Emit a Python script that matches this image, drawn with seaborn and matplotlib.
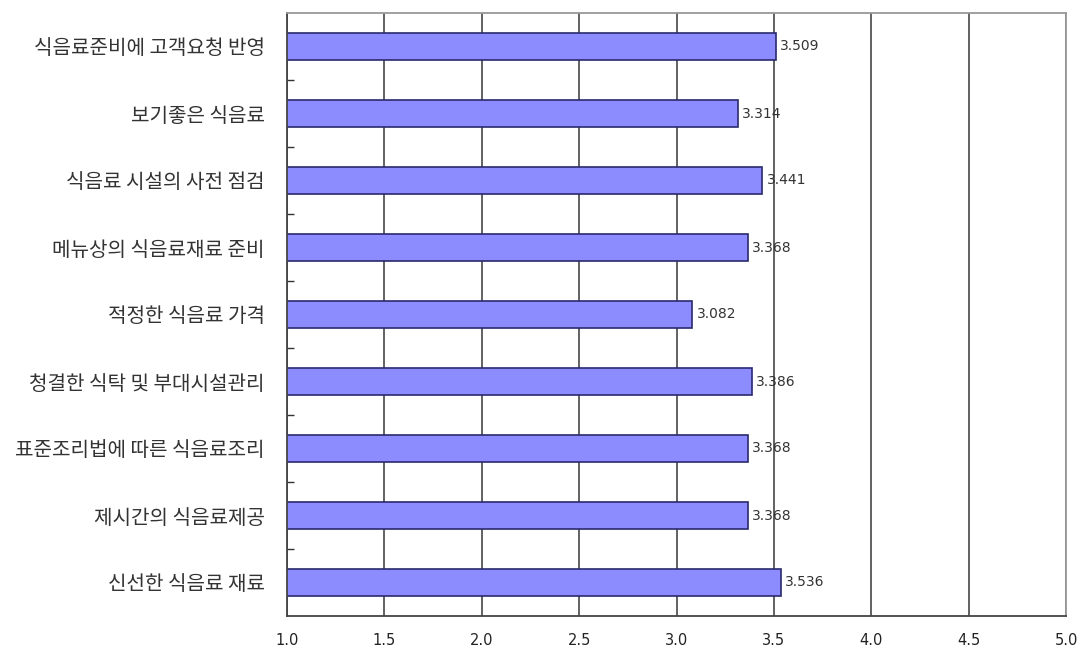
import matplotlib
matplotlib.use("Agg")
import matplotlib.pyplot as plt
import seaborn as sns
import pandas as pd
from matplotlib.ticker import FixedLocator

categories = [
    "식음료준비에 고객요청 반영",
    "보기좋은 식음료",
    "식음료 시설의 사전 점검",
    "메뉴상의 식음료재료 준비",
    "적정한 식음료 가격",
    "청결한 식탁 및 부대시설관리",
    "표준조리법에 따른 식음료조리",
    "제시간의 식음료제공",
    "신선한 식음료 재료",
]
values = [3.509, 3.314, 3.441, 3.368, 3.082, 3.386, 3.368, 3.368, 3.536]
x_ticks = [1.0, 1.5, 2.0, 2.5, 3.0, 3.5, 4.0, 4.5, 5.0]

sns.set_theme(style="white")
plt.rcParams['font.family'] = ['Noto Sans CJK KR', 'DejaVu Sans']

df = pd.DataFrame({"cat": categories, "val": values})

fig = plt.figure(figsize=(10.87, 6.55), dpi=100)
ax = fig.add_axes([287/1087, 1 - 616/655, (1066-287)/1087, (616-13)/655])

sns.barplot(data=df, x="val", y="cat", orient="h", color="#8c8cff",
            saturation=1, width=0.4, edgecolor="#2a2a6e", linewidth=1.2, ax=ax)

ax.set_xlim(1.0, 5.0)
ax.set_ylim(len(categories) - 0.5, -0.5)
ax.set_xticks(x_ticks)
ax.set_xticklabels([f"{t:.1f}" for t in x_ticks], fontsize=10.5, color="#222222", family='DejaVu Sans')
ax.tick_params(axis='x', length=0, pad=12)
ax.set_yticks(range(len(categories)))
ax.set_yticklabels(categories, fontsize=14.5, color="#333333")
ax.tick_params(axis='y', which='major', length=0, pad=16)
ax.yaxis.set_minor_locator(FixedLocator([i + 0.5 for i in range(len(categories) - 1)]))
ax.tick_params(axis='y', which='minor', left=True, length=5, direction='in', color="#333333", width=1)
ax.set_xlabel("")
ax.set_ylabel("")

ax.set_axisbelow(True)
ax.xaxis.grid(True, color="#555555", linewidth=1.3)
ax.yaxis.grid(False)

for side in ['left', 'bottom']:
    ax.spines[side].set_color("#444444")
    ax.spines[side].set_linewidth(1.3)
for side in ['top', 'right']:
    ax.spines[side].set_color("#999999")
    ax.spines[side].set_linewidth(1.3)

for c in ax.containers:
    ax.bar_label(c, fmt="%.3f", padding=3, fontsize=10, color="#333333", family='DejaVu Sans')

fig.savefig("out.png", dpi=100, facecolor="white")
